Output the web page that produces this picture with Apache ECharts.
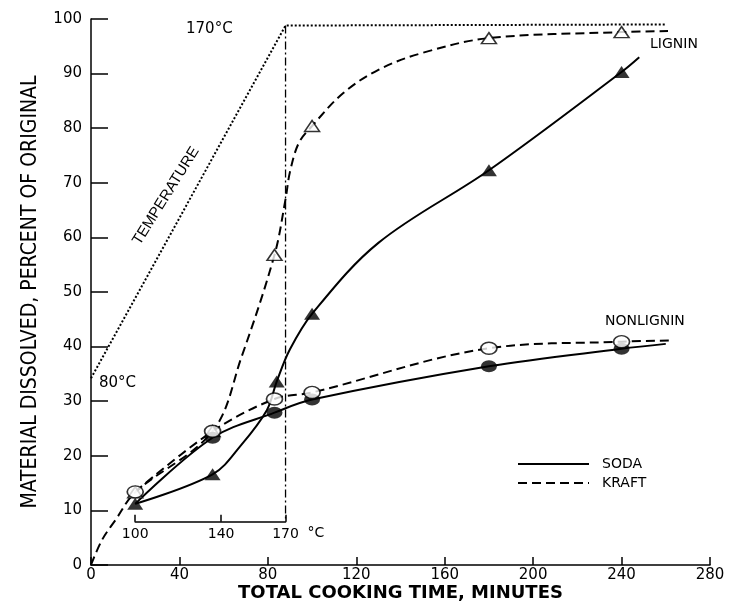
<!DOCTYPE html>
<html><head><meta charset="utf-8">
<script src="https://cdn.jsdelivr.net/npm/echarts@6/dist/echarts.min.js"></script>
<style>html,body{margin:0;padding:0;background:#fff}#c{width:738px;height:601px}</style>
</head><body><div id="c"></div>
<script>
// ---- data (time in minutes, value in percent) ----
const sodaLigninPts  = [[20,11.2],[55,16.6],[84,33.6],[100,46.0],[180,72.3],[240,90.3]];
const kraftLigninPts = [[20,13.3],[55,24.5],[83,56.8],[100,80.4],[180,96.5],[240,97.6]];
const sodaNonPts     = [[55,23.3],[83,27.9],[100,30.3],[180,36.4],[240,39.6]];
const kraftNonPts    = [[20,13.4],[55,24.5],[83,30.4],[100,31.6],[180,39.7],[240,40.9]];

// traced curve paths
const sodaLigninCurve  = [[20,11.2],[55,16.6],[68,22],[79.6,28.4],[84,33.6],[90,39.5],[100,46],[130,59],[180,72.3],[240,90.3],[248,93]];
const kraftLigninCurve = [[0,0],[5,4.6],[11,8.2],[20,13.3],[55,24.5],[68,38],[83,56.8],[88,67],[90,72],[94,77.3],[100,80.4],[114,86.4],[130,90.7],[150,93.8],[180,96.5],[240,97.6],[261,97.8]];
const sodaNonCurve     = [[20,11.2],[55,23.3],[83,27.9],[100,30.3],[180,36.4],[240,39.6],[260,40.5]];
const kraftNonCurve    = [[20,13.4],[55,24.5],[83,30.4],[100,31.6],[180,39.7],[240,40.9],[262,41.1]];
const temperatureLine  = [[0,34.2],[88,98.8],[260,99]];
const temp170Drop      = [[88,98.8],[88,7.9]];

// inset temperature scale
const tempTicks = [100,140,170];
const tempAxisTimes = [20,88];   // minutes where 100 °C and 170 °C sit
const tempAxisLevel = 7.9;       // percent level of the inset axis

// ---- layout ----
const G = {left:91, top:19, width:619, height:546};
const X_MIN = 0, X_MAX = 280, Y_MIN = 0, Y_MAX = 100;
const insetLeft = G.left + G.width*(tempAxisTimes[0]-X_MIN)/(X_MAX-X_MIN);
const insetRight = G.left + G.width*(tempAxisTimes[1]-X_MIN)/(X_MAX-X_MIN);
const insetY = G.top + G.height*(1-(tempAxisLevel-Y_MIN)/(Y_MAX-Y_MIN));

const FONT = 'DejaVu Sans';
const ellipse = 'path://M0,5a7,5 0 1,0 14,0a7,5 0 1,0 -14,0z';

const chart = echarts.init(document.getElementById('c'), null, {renderer:'canvas'});

function curve(name, data, dashed){
  return {type:'line', name, data, smooth:0.35, symbol:'none',
    itemStyle:{color:'#000'},
    lineStyle:{color:'#000', width:2, type: dashed ? [9,5] : 'solid'}, z:3, silent:true};
}
function marks(data, shape, filled, size){
  return {type:'scatter', data, symbol:shape, symbolSize:size, z:5, silent:true,
    itemStyle: filled ? {color:'#000'} : {color:'#fff', borderColor:'#000', borderWidth:1.5}};
}

chart.setOption({
  animation:false,
  backgroundColor:'#fff',
  grid:[
    {left:G.left, top:G.top, width:G.width, height:G.height, containLabel:false, outerBoundsMode:'none'},
    {left:insetLeft, width:insetRight-insetLeft, top:insetY-20, height:20, containLabel:false, outerBoundsMode:'none'}
  ],
  xAxis:[{
    type:'value', min:X_MIN, max:X_MAX, interval:40,
    axisLine:{lineStyle:{color:'#000', width:1.5}},
    axisTick:{inside:true, length:8, lineStyle:{color:'#000', width:1.5}},
    axisLabel:{color:'#000', fontFamily:FONT, fontSize:15, margin:3},
    splitLine:{show:false},
    name:'TOTAL COOKING TIME, MINUTES', nameLocation:'middle', nameGap:28, nameMoveOverlap:false,
    nameTextStyle:{color:'#000', fontFamily:FONT, fontSize:18, fontWeight:'bold', verticalAlign:'middle'}
  },{
    gridIndex:1, type:'value', min:100, max:170,
    axisLine:{lineStyle:{color:'#000', width:1.5}},
    axisTick:{inside:true, length:7, customValues:tempTicks, lineStyle:{color:'#000', width:1.5}},
    axisLabel:{color:'#000', fontFamily:FONT, fontSize:14, margin:5, customValues:tempTicks},
    splitLine:{show:false}
  }],
  yAxis:[{
    type:'value', min:Y_MIN, max:Y_MAX, interval:10,
    axisLine:{lineStyle:{color:'#000', width:1.5}},
    axisTick:{inside:true, length:17, lineStyle:{color:'#000', width:1.5}},
    axisLabel:{color:'#000', fontFamily:FONT, fontSize:15, margin:9},
    splitLine:{show:false},
    name:'MATERIAL DISSOLVED, PERCENT OF ORIGINAL', nameLocation:'middle', nameGap:50, nameRotate:90,
    nameTextStyle:{color:'#000', fontFamily:'Liberation Sans Narrow, DejaVu Sans Condensed, Liberation Sans', fontSize:21}
  },{
    gridIndex:1, type:'value', show:false, min:0, max:1
  }],
  legend:{
    data:['SODA','KRAFT'], orient:'vertical', left:512, top:452,
    itemWidth:71, itemHeight:10, itemGap:5, selectedMode:false,
    itemStyle:{color:'rgba(0,0,0,0)', borderWidth:0, opacity:0},
    textStyle:{color:'#000', fontFamily:FONT, fontSize:14, padding:[0,0,0,8]}
  },
  series:[
    {type:'line', data:temperatureLine, symbol:'none', silent:true,
      lineStyle:{color:'#000', width:2, type:[2,2]}, z:2},
    {type:'line', data:temp170Drop, symbol:'none', silent:true,
      lineStyle:{color:'#000', width:1.3, type:[8,3,2,3]}, z:2},
    curve('SODA', sodaLigninCurve, false),
    curve('KRAFT', kraftLigninCurve, true),
    curve('SODA', sodaNonCurve, false),
    curve('KRAFT', kraftNonCurve, true),
    marks(sodaLigninPts, 'triangle', true, [16,12]),
    marks(kraftLigninPts, 'triangle', false, [15,11]),
    marks(sodaNonPts, ellipse, true, [16,12]),
    marks(kraftNonPts, ellipse, false, [16,12])
  ],
  graphic:[
    {type:'text', x:insetRight+22, y:insetY+11, style:{text:'°C', fill:'#000', font:'14px '+FONT, verticalAlign:'middle'}},
    {type:'text', x:186, y:29, style:{text:'170°C', fill:'#000', font:'15px '+FONT, verticalAlign:'middle'}},
    {type:'text', x:99, y:383, style:{text:'80°C', fill:'#000', font:'15px '+FONT, verticalAlign:'middle'}},
    {type:'text', x:166, y:196, rotation:58*Math.PI/180, style:{text:'TEMPERATURE', fill:'#000', font:'15px Liberation Sans', align:'center', verticalAlign:'middle'}},
    {type:'text', x:650, y:44, style:{text:'LIGNIN', fill:'#000', font:'14px '+FONT, verticalAlign:'middle'}},
    {type:'text', x:605, y:321, style:{text:'NONLIGNIN', fill:'#000', font:'14px '+FONT, verticalAlign:'middle'}}
  ]
});
</script></body></html>
